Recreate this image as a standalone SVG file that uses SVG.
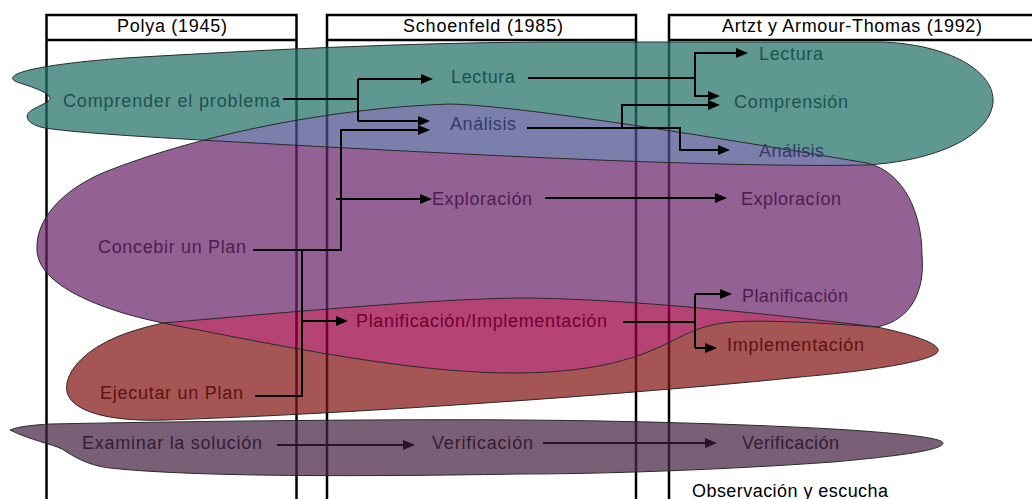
<svg xmlns="http://www.w3.org/2000/svg" width="1032" height="499" viewBox="0 0 1032 499">
  <style>
    .frame { fill: none; stroke: #000; stroke-width: 2.5; }
    .hdr { font-family: "Liberation Sans", Arial, sans-serif; font-size: 18px; fill: #000; }
    .lbl { font-family: "Liberation Sans", Arial, sans-serif; font-size: 18px; }
    .t-teal { fill: #1b534d; }
    .t-blue { fill: #353b67; }
    .t-purple { fill: #4f1d4f; }
    .t-pink { fill: #710031; }
    .t-red { fill: #601110; }
    .t-plum { fill: #351c33; }
    .t-plain { fill: #000; }
    .edge { fill: none; stroke: #000; stroke-width: 2; }
    .edge-plum { fill: none; stroke: #2a1428; stroke-width: 2; }
    .outline { fill: none; stroke: #2a2a2a; stroke-width: 1; }
  </style>
  <defs>
    <!-- stage regions -->
    <path id="shapeTeal" d="M13,77 C18,69 70,62 125,58 C260,50 400,43 540,42 L880,42 C950,44 995,72 993,102 C991,132 945,160 867,165 C700,168 420,152 200,140 C130,136 70,132 45,128 C28,125 22,116 32,110 C40,105 52,101 50,98 C48,93 38,89 26,85 C16,82 11,80 13,77 Z"/>
    <path id="shapePurple" d="M37,250 C35,215 70,185 110,170 C200,135 330,108 450,104 C530,106 760,145 867,163 C905,172 922,215 922,255 C925,290 912,320 877,327 C850,325 770,319 733,322 C705,324 690,332 670,342 C640,357 600,372 520,373 C420,374 300,350 163,323 C100,310 38,285 37,250 Z"/>
    <path id="shapeRed" d="M163,323 C280,313 430,299 520,298 C620,298 780,315 877,327 C910,334 940,343 938,351 C936,360 880,370 800,377 C700,388 400,412 167,420 C110,422 72,412 67,392 C63,370 90,345 130,332 C145,327 155,325 163,323 Z"/>
    <path id="shapePlum" d="M10,430 C20,426 35,425 50,424 C200,421 400,419 520,420 C650,421 760,425 833,429 C900,433 943,438 943,443 C943,450 900,456 833,462 C720,470 600,474 520,474 C400,476 200,478 110,468 C85,465 72,455 62,449 C52,444 30,440 10,430 Z"/>
    <clipPath id="clipTeal"><use href="#shapeTeal"/></clipPath>
    <clipPath id="clipPurple"><use href="#shapePurple"/></clipPath>
    <marker id="arrow" markerUnits="userSpaceOnUse" markerWidth="12" markerHeight="10" refX="8" refY="5" orient="auto">
      <path d="M0,0 L12,5 L0,10 Z" fill="#000"/>
    </marker>
    <marker id="arrowPlum" markerUnits="userSpaceOnUse" markerWidth="12" markerHeight="10" refX="8" refY="5" orient="auto">
      <path d="M0,0 L12,5 L0,10 Z" fill="#2a1428"/>
    </marker>
  </defs>

  <rect width="1032" height="499" fill="#fff"/>

  <!-- author columns -->
  <g id="col-polya">
    <rect class="frame" x="46.5" y="15" width="250" height="500"/>
    <line class="frame" x1="46.5" y1="40" x2="296.5" y2="40"/>
    <text class="hdr" x="117" y="32" textLength="110" lengthAdjust="spacing">Polya (1945)</text>
  </g>
  <g id="col-schoenfeld">
    <rect class="frame" x="327" y="15" width="309" height="500"/>
    <line class="frame" x1="327" y1="40" x2="636" y2="40"/>
    <text class="hdr" x="403" y="32" textLength="160" lengthAdjust="spacing">Schoenfeld (1985)</text>
  </g>
  <g id="col-artzt">
    <rect class="frame" x="669" y="15" width="380" height="500"/>
    <line class="frame" x1="669" y1="40" x2="1049" y2="40"/>
    <text class="hdr" x="722" y="32" textLength="260" lengthAdjust="spacing">Artzt y Armour-Thomas (1992)</text>
  </g>

  <!-- translucent stage regions -->
  <g id="stages" opacity="0.73">
    <use href="#shapeTeal" fill="#257269"/>
    <use href="#shapePurple" fill="#6c286c"/>
    <use href="#shapePurple" fill="#49518d" clip-path="url(#clipTeal)"/>
    <use href="#shapeRed" fill="#831716"/>
    <use href="#shapeRed" fill="#9b0043" clip-path="url(#clipPurple)"/>
    <use href="#shapePlum" fill="#492646"/>
  </g>
  <g id="stage-outlines">
    <use href="#shapeTeal" class="outline"/>
    <use href="#shapePurple" class="outline"/>
    <use href="#shapeRed" class="outline"/>
    <use href="#shapePlum" class="outline"/>
  </g>

  <!-- Polya -->
  <g id="n-comprender"><text class="lbl t-teal" x="63" y="107" textLength="217" lengthAdjust="spacing">Comprender el problema</text></g>
  <g id="n-concebir"><text class="lbl t-purple" x="98" y="253" textLength="148" lengthAdjust="spacing">Concebir un Plan</text></g>
  <g id="n-ejecutar"><text class="lbl t-red" x="100" y="399" textLength="143" lengthAdjust="spacing">Ejecutar un Plan</text></g>
  <g id="n-examinar"><text class="lbl t-plum" x="82" y="449" textLength="180" lengthAdjust="spacing">Examinar la solución</text></g>

  <!-- Schoenfeld -->
  <g id="n-s-lectura"><text class="lbl t-teal" x="451" y="83" textLength="64" lengthAdjust="spacing">Lectura</text></g>
  <g id="n-s-analisis"><text class="lbl t-blue" x="450" y="130" textLength="66" lengthAdjust="spacing">Análisis</text></g>
  <g id="n-s-exploracion"><text class="lbl t-purple" x="432" y="205" textLength="100" lengthAdjust="spacing">Exploración</text></g>
  <g id="n-s-planimpl"><text class="lbl t-pink" x="356" y="327" textLength="251" lengthAdjust="spacing">Planificación/Implementación</text></g>
  <g id="n-s-verificacion"><text class="lbl t-plum" x="432" y="449" textLength="101" lengthAdjust="spacing">Verificación</text></g>

  <!-- Artzt y Armour-Thomas -->
  <g id="n-a-lectura"><text class="lbl t-teal" x="759" y="60" textLength="64" lengthAdjust="spacing">Lectura</text></g>
  <g id="n-a-comprension"><text class="lbl t-teal" x="734" y="108" textLength="114" lengthAdjust="spacing">Comprensión</text></g>
  <g id="n-a-analisis"><text class="lbl t-blue" x="759" y="157" textLength="65" lengthAdjust="spacing">Análisis</text></g>
  <g id="n-a-exploracion"><text class="lbl t-purple" x="741" y="205" textLength="100" lengthAdjust="spacing">Exploracíon</text></g>
  <g id="n-a-planificacion"><text class="lbl t-purple" x="742" y="302" textLength="106" lengthAdjust="spacing">Planificación</text></g>
  <g id="n-a-implementacion"><text class="lbl t-red" x="727" y="351" textLength="137" lengthAdjust="spacing">Implementación</text></g>
  <g id="n-a-verificacion"><text class="lbl t-plum" x="742" y="449" textLength="97" lengthAdjust="spacing">Verificación</text></g>
  <g id="n-a-observacion"><text class="lbl t-plain" x="692" y="497" textLength="196" lengthAdjust="spacing">Observación y escucha</text></g>

  <!-- connectors -->
  <g id="connectors">
    <path class="edge" d="M283,99 H358 M358,79 V121"/>
    <path class="edge" d="M358,79 H429" marker-end="url(#arrow)"/>
    <path class="edge" d="M358,121 H426" marker-end="url(#arrow)"/>
    <path class="edge" d="M253,250 H341 V130 H426" marker-end="url(#arrow)"/>
    <path class="edge" d="M336,199 H428" marker-end="url(#arrow)"/>
    <path class="edge" d="M302,250 V396 H255"/>
    <path class="edge" d="M302,321 H344" marker-end="url(#arrow)"/>
    <path class="edge" d="M528,78 H695 V53 H744" marker-end="url(#arrow)"/>
    <path class="edge" d="M695,78 V96 H716" marker-end="url(#arrow)"/>
    <path class="edge" d="M527,128 H680 V150 H726" marker-end="url(#arrow)"/>
    <path class="edge" d="M622,128 V105 H716" marker-end="url(#arrow)"/>
    <path class="edge" d="M545,198 H723" marker-end="url(#arrow)"/>
    <path class="edge" d="M623,322 H695 M695,294 V348"/>
    <path class="edge" d="M695,294 H728" marker-end="url(#arrow)"/>
    <path class="edge" d="M695,348 H713" marker-end="url(#arrow)"/>
    <path class="edge-plum" d="M277,445 H411" marker-end="url(#arrowPlum)"/>
    <path class="edge-plum" d="M543,443 H713" marker-end="url(#arrowPlum)"/>
  </g>
</svg>
